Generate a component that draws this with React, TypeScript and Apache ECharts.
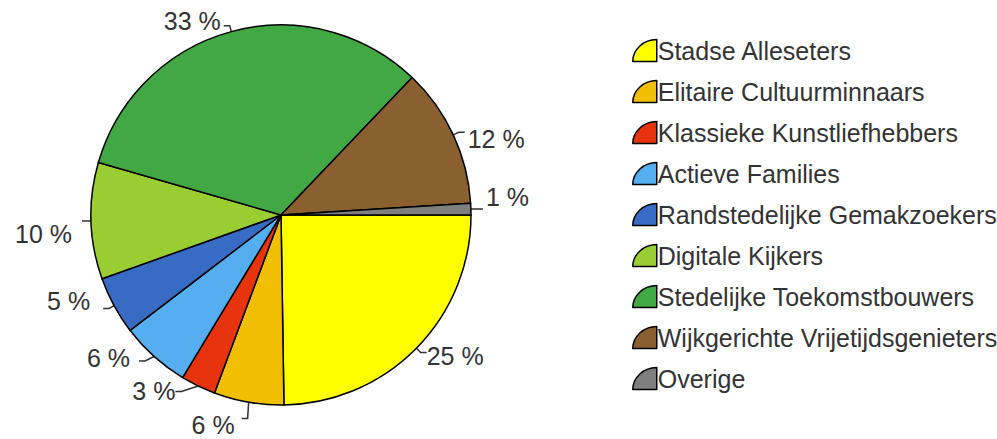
import React, { useEffect, useRef } from "react";
import * as echarts from "echarts";

const categories = [
  "Stadse Alleseters",
  "Elitaire Cultuurminnaars",
  "Klassieke Kunstliefhebbers",
  "Actieve Families",
  "Randstedelijke Gemakzoekers",
  "Digitale Kijkers",
  "Stedelijke Toekomstbouwers",
  "Wijkgerichte Vrijetijdsgenieters",
  "Overige",
];
const values = [25, 6, 3, 6, 5, 10, 33, 12, 1];
const colors = ["#FFFF00", "#F2BE00", "#E8340C", "#55AEEF", "#386CC4", "#9ACD32", "#42A843", "#8A6030", "#7F7F7F"];

const legendIcon = "path://M0,22 C0,10 11,0 24,0 L24,22 Z";

// small nudges of the percentage labels (by slice index): [dx, dy]
const labelNudge: Record<number, [number, number]> = {
  0: [-3, 3],
  1: [-4, 7],
  2: [3, 0],
  3: [-6, -3],
  4: [-10, -8],
  5: [-7, 13],
  6: [0, -5],
  7: [0, 7],
  8: [0, -12],
};

export default function App() {
  const ref = useRef<HTMLDivElement>(null);
  useEffect(() => {
    document.body.style.margin = "0";
    const chart = echarts.init(ref.current!, undefined, { renderer: "svg" });
    chart.setOption({
      animation: false,
      backgroundColor: "#ffffff",
      legend: {
        orient: "vertical",
        left: 627,
        top: 33,
        itemWidth: 24,
        itemHeight: 22,
        itemGap: 16,
        icon: legendIcon,
        itemStyle: { borderColor: "#000", borderWidth: 1.5 },
        textStyle: {
          fontFamily: "Liberation Sans, Arial, sans-serif",
          fontSize: 25,
          color: "#333",
          padding: [0, 0, 0, -4],
        },
        data: categories,
      },
      series: [
        {
          type: "pie",
          center: [281, 215],
          radius: 190,
          startAngle: 0,
          clockwise: true,
          avoidLabelOverlap: true,
          itemStyle: { borderColor: "#000", borderWidth: 1.5 },
          label: {
            show: true,
            formatter: "{c} %",
            fontFamily: "Liberation Sans, Arial, sans-serif",
            fontSize: 25,
            color: "#333",
            distanceToLabelLine: 3,
          },
          labelLine: { show: true, length: 6, length2: 6, lineStyle: { color: "#333", width: 1.5 } },
          labelLayout: (params: any) => {
            const d = labelNudge[params.dataIndex];
            return d ? { dx: d[0], dy: d[1] } : {};
          },
          data: categories.map((name, i) => ({ name, value: values[i], itemStyle: { color: colors[i] } })),
        },
      ],
    });
    return () => chart.dispose();
  }, []);
  return <div ref={ref} style={{ width: 997, height: 439 }} />;
}
